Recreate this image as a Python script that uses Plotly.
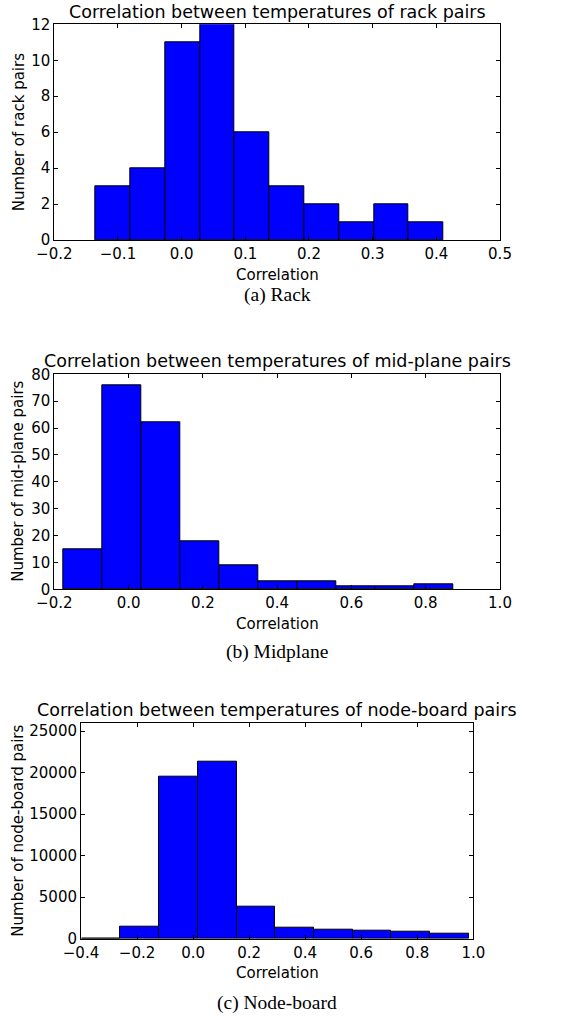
import plotly.graph_objects as go

# ---------------- data ----------------
rack_edges = [-0.135, -0.080, -0.026, 0.029, 0.083, 0.138, 0.193, 0.247, 0.302, 0.356, 0.411]
rack_counts = [3, 4, 11, 12, 6, 3, 2, 1, 2, 1]

mid_edges = [-0.176, -0.071, 0.034, 0.139, 0.244, 0.349, 0.454, 0.559, 0.664, 0.769, 0.874]
mid_counts = [15, 76, 62, 18, 9, 3, 3, 1, 1, 2]

node_edges = [-0.398, -0.260, -0.121, 0.017, 0.155, 0.294, 0.432, 0.570, 0.708, 0.847, 0.985]
node_counts = [60, 1500, 19550, 21270, 3900, 1350, 1100, 950, 800, 650]

titles = ["Correlation between temperatures of rack pairs",
          "Correlation between temperatures of mid-plane pairs",
          "Correlation between temperatures of node-board pairs"]
ytitles = ["Number of rack pairs", "Number of mid-plane pairs", "Number of node-board pairs"]
xtitle = "Correlation"
captions = ["(a) Rack", "(b) Midplane", "(c) Node-board"]

# ---------------- layout geometry ----------------
W, H = 574, 1016
panels = [
    dict(edges=rack_edges, counts=rack_counts, xr=[-0.2, 0.5], yr=[0, 12], dx=0.1, dy=2,
         left=54.3, right=500, top=24.3, bottom=240, ytf="d",
         title_y=12, xt_y=275, cap_y=295, yt_x=19),
    dict(edges=mid_edges, counts=mid_counts, xr=[-0.2, 1.0], yr=[0, 80], dx=0.2, dy=10,
         left=54.3, right=500, top=374.3, bottom=589.3, ytf="d",
         title_y=361, xt_y=624, cap_y=652, yt_x=18),
    dict(edges=node_edges, counts=node_counts, xr=[-0.4, 1.0], yr=[0, 26000], dx=0.2, dy=5000,
         left=81, right=473.3, top=722.7, bottom=938.7, ytf="d",
         title_y=710, xt_y=973, cap_y=1003, yt_x=18),
]

FONT = "DejaVu Sans"
TICK = 15
fig = go.Figure()
annotations = []
for i, p in enumerate(panels):
    n = "" if i == 0 else str(i + 1)
    e = p["edges"]
    centers = [(a + b) / 2 for a, b in zip(e[:-1], e[1:])]
    widths = [b - a for a, b in zip(e[:-1], e[1:])]
    fig.add_trace(go.Bar(x=centers, y=p["counts"], width=widths,
                         marker=dict(color="#0000ff", line=dict(color="black", width=1)),
                         xaxis="x" + n, yaxis="y" + n, showlegend=False, hoverinfo="skip"))
    ax = dict(domain=[p["left"] / W, p["right"] / W], range=p["xr"], dtick=p["dx"], tick0=0,
              tickformat=".1f", showgrid=False, zeroline=False, showline=True, mirror="ticks",
              linecolor="black", linewidth=1, ticks="inside", ticklen=4, tickcolor="black",
              tickfont=dict(family=FONT, size=TICK, color="black"),
              anchor="y" + n, automargin=False)
    ay = dict(domain=[1 - p["bottom"] / H, 1 - p["top"] / H], range=p["yr"], dtick=p["dy"], tick0=0,
              tickformat=p["ytf"], showgrid=False, zeroline=False, showline=True, mirror="ticks",
              linecolor="black", linewidth=1, ticks="inside", ticklen=4, tickcolor="black",
              tickfont=dict(family=FONT, size=TICK, color="black"),
              anchor="x" + n, automargin=False)
    fig.update_layout(**{"xaxis" + n: ax, "yaxis" + n: ay})
    cx = (p["left"] + p["right"]) / 2 / W
    annotations += [
        dict(text=titles[i], x=cx, y=1 - p["title_y"] / H, xref="paper", yref="paper",
             xanchor="center", yanchor="middle", showarrow=False,
             font=dict(family=FONT, size=17.5, color="black")),
        dict(text=xtitle, x=cx, y=1 - p["xt_y"] / H, xref="paper", yref="paper",
             xanchor="center", yanchor="middle", showarrow=False,
             font=dict(family=FONT, size=TICK, color="black")),
        dict(text=ytitles[i], x=p["yt_x"] / W, y=1 - (p["top"] + p["bottom"]) / 2 / H,
             xref="paper", yref="paper", xanchor="center", yanchor="middle", textangle=-90,
             showarrow=False, font=dict(family=FONT, size=TICK, color="black")),
        dict(text=captions[i], x=cx, y=1 - p["cap_y"] / H, xref="paper", yref="paper",
             xanchor="center", yanchor="middle", showarrow=False,
             font=dict(family="Liberation Serif", size=19.5, color="black")),
    ]

fig.update_layout(width=W, height=H, margin=dict(l=0, r=0, t=0, b=0, autoexpand=False),
                  paper_bgcolor="white", plot_bgcolor="white",
                  annotations=annotations, bargap=0)
fig.write_html("out.html", config={"displayModeBar": False},
               post_script="document.body.style.margin='0';document.body.style.overflow='hidden';")
